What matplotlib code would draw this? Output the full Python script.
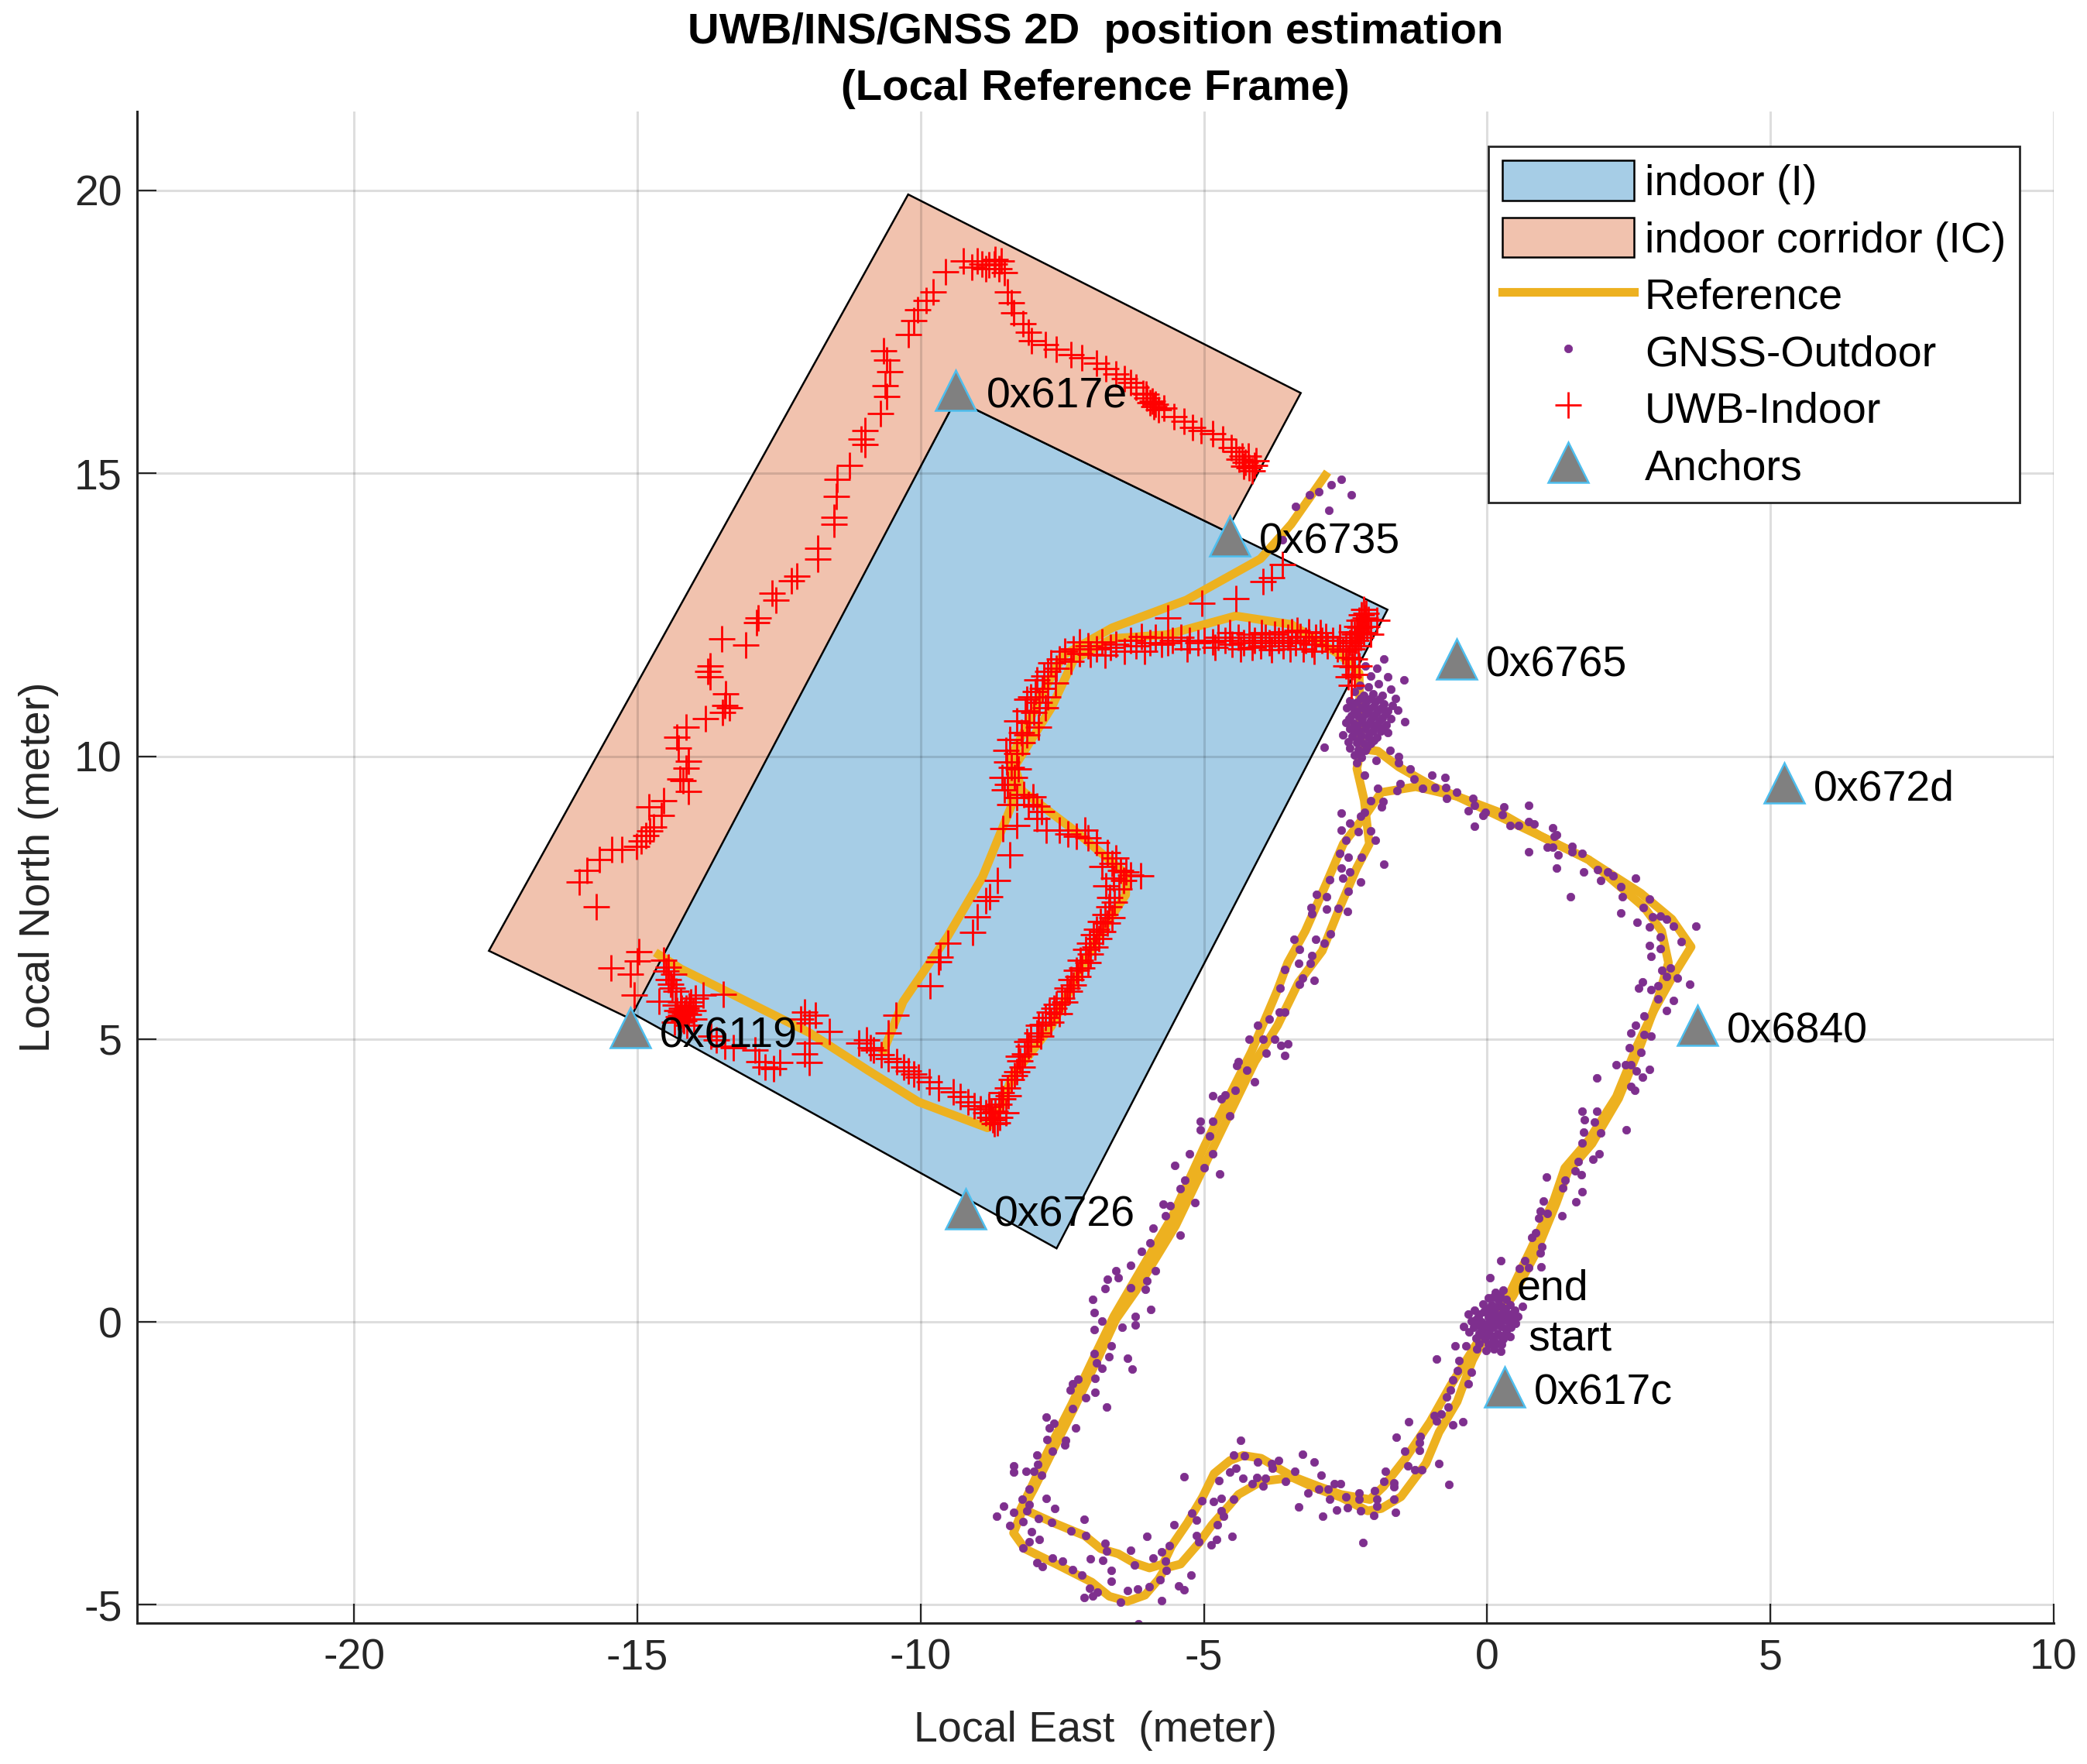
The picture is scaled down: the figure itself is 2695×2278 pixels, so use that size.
import numpy as np
import matplotlib
matplotlib.use("Agg")
import matplotlib.pyplot as plt

plt.rcParams['font.family'] = ['Liberation Sans', 'DejaVu Sans']
plt.rcParams['axes.unicode_minus'] = False

# areas
indoor_x = [-9.38, -1.76, -7.60, -15.13]
indoor_y = [16.30, 12.59, 1.30, 5.48]
corridor_x = [-10.22, -3.29, -4.60, -9.38, -15.13, -17.62]
corridor_y = [19.93, 16.42, 13.97, 16.30, 5.36, 6.56]

# reference track, outdoors (two laps)
ref_out_x = [0.10, 0.39, 0.76, 1.18, 1.37, 1.79, 2.28, 2.65, 2.95, 3.26, 3.60, 3.26, 2.71, 1.79, 0.94, 0.21, -0.53,
             -1.26, -1.87, -2.11, -2.54, -2.84, -3.21, -3.52, -3.70, -4.16, -4.98, -5.57, -6.27, -6.59, -6.90, -7.33,
             -7.77, -8.04, -8.24, -8.12, -7.61, -7.10, -6.82, -6.51, -6.23, -5.96, -5.72, -5.57, -5.29, -5.02, -4.82,
             -4.54, -4.31, -3.99, -3.44, -2.97, -2.58, -2.07, -1.83, -1.44, -1.01, -0.65, -0.14, 0.10]
ref_out_y = [0.00, 0.49, 1.26, 2.16, 2.72, 3.21, 3.98, 4.89, 5.52, 6.08, 6.63, 7.12, 7.58, 8.17, 8.59, 9.01, 9.29,
             9.46, 9.36, 9.01, 8.45, 7.75, 6.91, 6.35, 5.87, 4.78, 3.13, 1.84, 0.65, 0.10, -0.54, -1.45,
             -2.32, -2.91, -3.32, -3.34, -3.57, -3.78, -4.01, -4.10, -4.26, -4.35, -4.28, -3.96, -3.55, -3.09, -2.68,
             -2.45, -2.36, -2.41, -2.73, -2.91, -3.05, -3.14, -2.91, -2.41, -1.77, -1.13, -0.31, 0.00]
ref_out2_x = [0.10, 0.45, 0.85, 1.22, 1.42, 1.85, 2.32, 2.71, 3.02, 3.20, 3.08, 2.77, 1.79, 0.94, -0.53, -0.95, -1.56,
              -1.93, -2.23, -2.30, -2.17, -2.08, -2.30, -2.60, -2.91, -3.33, -3.70, -4.10, -4.90, -5.50, -6.20, -6.55,
              -6.85, -7.28, -7.72, -8.00, -8.20, -8.36, -8.16, -7.61, -6.98, -6.67, -6.35, -6.04, -5.80, -5.68, -5.41,
              -5.09, -4.86, -4.54, -4.39, -3.99, -3.44, -3.00, -2.58, -2.11, -1.87, -1.52, -1.08, -0.85, -0.53, -0.26,
              0.10]
ref_out2_y = [0.00, 0.45, 1.20, 2.10, 2.65, 3.15, 3.95, 4.90, 5.73, 6.35, 6.91, 7.33, 8.17, 8.59, 9.29, 9.46, 9.81,
              10.09, 10.13, 9.78, 9.22, 8.45, 8.03, 7.33, 6.56, 6.00, 5.24, 4.60, 2.95, 1.70, 0.55, 0.05,
              -0.60, -1.50, -2.38, -2.95, -3.32, -3.73, -4.01, -4.28, -4.60, -4.85, -4.94, -4.83, -4.55, -4.35, -4.28,
              -3.91, -3.59, -3.23, -3.05, -2.82, -2.75, -2.95, -3.10, -3.34, -3.30, -3.09, -2.50, -1.95, -1.41, -0.68,
              0.00]

# reference track, indoors
ref_in_x = [-2.23, -2.26, -2.58, -3.46, -4.44, -5.64, -6.62, -7.30, -7.69, -8.34, -8.21, -7.25, -6.38, -6.38, -6.90,
            -7.69, -8.39, -8.60, -8.82, -10.04, -10.92, -11.96, -13.18, -14.23, -14.62]
ref_in_y = [10.13, 11.47, 11.78, 12.33, 12.48, 12.15, 12.08, 11.70, 10.86, 9.82, 9.39, 8.66, 7.92, 7.55, 6.76,
            5.23, 4.32, 3.77, 3.43, 3.89, 4.44, 5.11, 5.72, 6.24, 6.49]
ref_in2_x = [-10.65, -10.31, -9.52, -8.91, -8.56, -8.39, -8.39, -7.82, -7.49, -6.62, -5.31, -4.00, -3.46, -2.86]
ref_in2_y = [4.80, 5.66, 6.82, 7.86, 8.72, 9.14, 10.00, 11.17, 11.78, 12.27, 12.76, 13.49, 14.10, 14.96]

# UWB fixes
uwb_corridor = [(-4.11, 15.14), (-4.20, 15.10), (-4.27, 15.20), (-4.33, 15.30), (-4.44, 15.39), (-4.52, 15.45),
                (-4.67, 15.60), (-4.85, 15.70), (-5.05, 15.76), (-5.20, 15.81), (-5.35, 15.92), (-5.53, 16.00),
                (-5.70, 16.15), (-5.85, 16.22), (-5.91, 16.27), (-6.00, 16.33), (-6.07, 16.42), (-6.20, 16.52),
                (-6.30, 16.60), (-6.40, 16.67), (-6.55, 16.75), (-6.73, 16.85), (-6.90, 16.95), (-7.16, 17.04),
                (-7.35, 17.10), (-7.60, 17.19), (-7.80, 17.28), (-8.04, 17.34), (-8.10, 17.50), (-8.20, 17.65),
                (-8.36, 17.83), (-8.40, 18.02), (-8.47, 18.20), (-8.52, 18.55), (-8.58, 18.75), (-8.70, 18.70),
                (-8.85, 18.62), (-9.00, 18.75), (-9.10, 18.65), (-9.24, 18.75), (-9.56, 18.56), (-9.78, 18.20),
                (-9.90, 18.05), (-10.05, 17.89), (-10.12, 17.70), (-10.22, 17.46), (-10.65, 17.16), (-10.60, 17.00),
                (-10.55, 16.79), (-10.62, 16.55), (-10.60, 16.36), (-10.71, 16.06), (-10.98, 15.75), (-11.05, 15.60),
                (-10.98, 15.51), (-11.25, 15.14), (-11.47, 14.90), (-11.49, 14.59), (-11.53, 14.22), (-11.53, 14.10),
                (-11.82, 13.67), (-11.82, 13.49), (-12.18, 13.18), (-12.28, 13.10), (-12.62, 12.88), (-12.56, 12.76),
                (-12.87, 12.45), (-12.90, 12.36), (-13.51, 12.08), (-13.09, 11.96), (-13.71, 11.60), (-13.75, 11.50),
                (-13.71, 11.41), (-13.44, 11.10), (-13.38, 10.86), (-13.45, 10.90), (-13.50, 10.78), (-13.80, 10.67),
                (-14.14, 10.52), (-14.30, 10.34), (-14.28, 10.15), (-14.10, 9.91), (-14.14, 9.79), (-14.19, 9.57),
                (-14.25, 9.60), (-14.10, 9.38), (-14.54, 9.22), (-14.80, 9.11), (-14.58, 8.96), (-14.71, 8.75),
                (-14.78, 8.68), (-14.85, 8.60), (-14.93, 8.50), (-15.02, 8.41), (-15.28, 8.35), (-15.45, 8.35),
                (-15.67, 8.17), (-15.89, 7.98), (-16.02, 7.77), (-15.73, 7.34), (-14.97, 6.55), (-15.00, 6.38),
                (-15.47, 6.26), (-15.12, 6.15), (-15.06, 5.78)]
uwb_indoor = [(-14.54, 6.39), (-14.45, 6.27), (-14.36, 6.15), (-14.41, 5.97), (-14.32, 5.84), (-14.23, 5.66),
              (-14.14, 5.54), (-14.06, 5.66), (-13.97, 5.72), (-13.84, 5.78), (-13.49, 5.79), (-14.62, 5.67),
              (-14.23, 5.42), (-14.20, 5.36), (-14.24, 5.48), (-14.33, 5.60), (-14.16, 5.46), (-14.08, 5.58),
              (-14.30, 5.50), (-14.26, 5.30), (-14.45, 6.05), (-14.38, 5.90), (-14.50, 6.20), (-13.60, 4.98),
              (-13.70, 5.05), (-13.45, 4.87), (-13.30, 4.85), (-12.92, 4.80), (-12.75, 4.50), (-12.85, 4.60),
              (-12.49, 4.59), (-12.60, 4.48), (-11.96, 4.59), (-12.05, 4.74), (-11.96, 4.93), (-11.61, 5.14),
              (-11.96, 5.29), (-12.05, 5.48), (-12.12, 5.36), (-11.85, 5.42), (-11.09, 4.93), (-10.96, 4.98),
              (-10.88, 4.85), (-10.83, 4.80), (-10.70, 4.72), (-10.57, 4.65), (-10.42, 4.60), (-10.30, 4.50),
              (-10.22, 4.44), (-10.12, 4.38), (-10.04, 4.32), (-9.85, 4.25), (-9.69, 4.13), (-9.43, 4.07),
              (-9.30, 3.98), (-9.17, 3.89), (-9.05, 3.82), (-8.95, 3.77), (-8.85, 3.70), (-8.78, 3.62),
              (-8.72, 3.58), (-8.65, 3.52), (-8.68, 3.72), (-8.62, 3.85), (-8.55, 3.95), (-8.47, 4.13),
              (-8.40, 4.28), (-8.21, 4.50), (-8.25, 4.62), (-8.17, 4.74), (-8.10, 4.88), (-7.95, 5.11),
              (-7.85, 5.26), (-7.80, 5.38), (-7.73, 5.48), (-7.60, 5.62), (-7.51, 5.72), (-7.42, 5.90),
              (-7.35, 6.05), (-7.25, 6.21), (-7.18, 6.40), (-7.08, 6.58), (-7.02, 6.70), (-6.95, 6.85),
              (-6.90, 6.94), (-6.82, 7.08), (-6.74, 7.20), (-6.68, 7.34), (-6.66, 7.50), (-6.73, 7.71),
              (-6.60, 7.85), (-6.47, 7.98), (-6.30, 7.90), (-6.12, 7.89), (-6.38, 7.95), (-6.55, 8.20),
              (-6.70, 8.30), (-6.90, 8.47), (-7.05, 8.55), (-7.25, 8.59), (-7.55, 8.70), (-7.78, 8.69),
              (-7.86, 9.02), (-7.95, 8.90), (-8.10, 9.15), (-8.30, 9.27), (-8.30, 8.78), (-8.52, 9.40),
              (-8.34, 9.63), (-8.40, 9.80), (-8.48, 9.90), (-8.30, 10.05), (-8.21, 10.24), (-8.22, 10.42),
              (-8.08, 10.60), (-8.00, 10.78), (-7.90, 10.95), (-8.05, 11.05), (-7.85, 11.20), (-7.95, 11.35),
              (-7.75, 11.50), (-7.70, 11.65), (-7.55, 11.72), (-7.45, 11.85), (-7.30, 11.90), (-9.83, 5.94),
              (-9.69, 6.36), (-9.65, 6.45), (-9.52, 6.70), (-9.08, 6.88), (-9.00, 7.16), (-8.78, 7.52),
              (-8.85, 7.45), (-8.65, 7.80), (-8.43, 8.26), (-10.44, 5.42), (-10.57, 5.11), (-8.55, 8.72),
              (-7.20, 12.02), (-7.05, 11.95), (-6.90, 11.90), (-6.80, 12.02), (-6.65, 11.92), (-6.55, 11.98),
              (-6.40, 11.85), (-6.30, 12.05), (-6.20, 11.95), (-6.05, 11.85), (-5.95, 12.00), (-5.85, 12.10),
              (-5.75, 11.98), (-5.64, 12.00), (-5.55, 12.05), (-5.40, 12.10), (-5.25, 12.05), (-5.10, 12.00),
              (-5.00, 12.05), (-4.85, 12.02), (-4.75, 12.10), (-4.62, 12.05), (-4.50, 11.98), (-4.40, 12.10),
              (-4.30, 12.00), (-4.20, 12.15), (-4.10, 12.05), (-4.00, 11.95), (-3.92, 12.10), (-3.85, 12.00),
              (-3.75, 12.15), (-3.68, 12.05), (-3.60, 11.95), (-3.52, 12.10), (-3.45, 12.20), (-3.38, 12.00),
              (-3.30, 12.12), (-3.20, 12.05), (-3.10, 11.98), (-3.02, 12.10), (-2.92, 12.05), (-2.82, 11.95),
              (-2.72, 12.05), (-5.64, 12.45), (-5.04, 12.70), (-4.44, 12.79), (-3.95, 13.09), (-3.62, 13.39),
              (-3.80, 13.15), (-2.55, 11.85), (-2.50, 11.60), (-2.45, 11.75), (-2.42, 12.00), (-2.38, 11.90),
              (-2.35, 12.15), (-2.32, 12.05), (-2.30, 12.30), (-2.28, 12.20), (-2.26, 12.40), (-2.22, 12.50),
              (-2.20, 12.30), (-2.18, 12.60), (-2.15, 12.45), (-2.12, 12.30), (-2.05, 12.15), (-1.95, 12.40),
              (-2.45, 11.40), (-2.40, 11.25), (-7.00, 11.80), (-6.75, 11.78), (-6.10, 12.12), (-5.30, 11.90)]
# second pass over the crowded stretches
uwb_dense = [(-14.28, 5.40), (-14.18, 5.32), (-14.10, 5.44), (-14.22, 5.55), (-14.02, 5.50), (-14.35, 5.30),
             (-14.12, 5.24), (-14.00, 5.36), (-8.75, 3.70), (-8.70, 3.50), (-8.60, 3.62), (-8.80, 3.80),
             (-8.58, 4.05), (-8.50, 3.70), (-8.45, 4.00), (-8.35, 4.35), (-8.30, 4.42), (-8.28, 4.70),
             (-8.12, 4.95), (-8.05, 5.00), (-7.92, 5.25), (-7.88, 5.05), (-7.70, 5.30), (-7.65, 5.55),
             (-7.55, 5.45), (-7.45, 5.65), (-7.38, 5.85), (-7.30, 5.95), (-7.22, 6.10), (-7.15, 6.25),
             (-7.05, 6.35), (-7.00, 6.50), (-6.92, 6.62), (-6.85, 6.78), (-6.78, 6.90), (-6.70, 7.05),
             (-6.62, 7.15), (-6.58, 7.42), (-6.50, 7.65), (-6.42, 7.80), (-6.80, 8.05), (-6.62, 8.10),
             (-7.10, 8.70), (-7.40, 8.62), (-8.02, 9.28), (-7.95, 9.12), (-8.18, 9.32), (-8.42, 9.15),
             (-8.46, 9.50), (-8.56, 9.62), (-8.28, 9.78), (-8.50, 10.10), (-8.42, 10.30), (-8.12, 10.38),
             (-8.30, 10.62), (-8.15, 10.80), (-7.92, 10.52), (-8.12, 11.00), (-7.80, 10.85), (-7.98, 11.15),
             (-7.75, 11.05), (-7.62, 11.30), (-7.82, 11.42), (-7.60, 11.55), (-7.35, 11.68), (-7.20, 11.82),
             (-4.80, 11.92), (-4.55, 12.18), (-4.35, 11.90), (-4.15, 11.92), (-3.98, 12.18), (-3.80, 11.88),
             (-3.62, 12.20), (-3.48, 11.90), (-3.35, 12.22), (-3.25, 11.90), (-3.15, 12.20), (-3.05, 11.85),
             (-2.95, 12.18), (-2.85, 12.12), (-2.65, 11.90), (-2.60, 12.10), (-2.50, 11.95), (-2.40, 12.20),
             (-2.34, 11.72), (-2.28, 11.95), (-2.24, 12.10), (-2.18, 12.18), (-2.26, 11.60), (-2.34, 11.45),
             (-2.38, 11.58), (-2.14, 12.52), (-2.10, 12.42), (-2.25, 12.28), (-8.68, 18.78), (-8.62, 18.62),
             (-8.80, 18.68), (-8.92, 18.70), (-4.15, 15.05), (-4.08, 15.22), (-4.30, 15.12), (-4.38, 15.25),
             (-4.22, 15.30), (-5.88, 16.18), (-5.95, 16.25), (-5.80, 16.12), (-6.02, 16.40)]

# GNSS fixes
gnss_north = [(-2.58, 14.90), (-2.75, 14.80), (-2.40, 14.62), (-2.97, 14.68), (-3.13, 14.62), (-3.38, 14.42),
              (-2.80, 14.35), (-3.62, 13.83)]
gnss_hub = [(-2.15, 11.60), (-1.82, 11.72), (-1.47, 11.35), (-1.95, 11.55), (-2.05, 11.42), (-1.75, 11.40),
            (-2.25, 11.25), (-2.10, 11.22), (-1.92, 11.28), (-1.70, 11.18), (-2.35, 11.15), (-2.18, 11.08),
            (-2.02, 11.10), (-1.85, 11.08), (-1.62, 11.02), (-2.42, 10.98), (-2.30, 10.95), (-2.12, 10.98),
            (-1.98, 10.96), (-1.82, 10.92), (-1.68, 10.90), (-2.48, 10.85), (-2.35, 10.82), (-2.22, 10.86),
            (-2.08, 10.84), (-1.92, 10.82), (-1.75, 10.80), (-1.58, 10.81), (-2.40, 10.72), (-2.28, 10.70),
            (-2.15, 10.74), (-2.00, 10.70), (-1.85, 10.68), (-1.70, 10.66), (-1.46, 10.61), (-2.50, 10.60),
            (-2.36, 10.58), (-2.22, 10.60), (-2.08, 10.58), (-1.95, 10.56), (-1.78, 10.55), (-2.42, 10.48),
            (-2.28, 10.46), (-2.15, 10.48), (-2.02, 10.45), (-1.88, 10.44), (-1.75, 10.42), (-2.55, 10.38),
            (-2.38, 10.35), (-2.22, 10.36), (-2.10, 10.34), (-1.95, 10.33), (-2.45, 10.26), (-2.30, 10.24),
            (-2.18, 10.22), (-2.05, 10.22), (-2.88, 10.16), (-2.42, 10.14), (-2.28, 10.12), (-2.15, 10.10),
            (-2.35, 10.02), (-2.22, 9.98), (-2.30, 9.88), (-2.24, 11.02), (-2.06, 11.02), (-1.90, 11.00),
            (-2.38, 10.90), (-2.16, 10.90), (-2.00, 10.88), (-1.86, 10.86), (-2.30, 10.78), (-2.10, 10.78),
            (-1.96, 10.76), (-1.80, 10.74), (-2.44, 10.66), (-2.20, 10.66), (-2.06, 10.64), (-1.90, 10.62),
            (-2.30, 10.54), (-2.14, 10.54), (-2.00, 10.52), (-1.84, 10.50), (-2.34, 10.42), (-2.08, 10.40),
            (-2.26, 10.30), (-2.00, 10.28), (-2.12, 10.16), (-2.24, 10.06)]
gnss_start = [(0.05, 0.78), (0.15, 0.52), (0.28, 0.56), (0.02, 0.42), (0.20, 0.38), (0.34, 0.40), (-0.08, 0.32),
              (0.08, 0.30), (0.26, 0.28), (0.40, 0.30), (-0.22, 0.20), (-0.06, 0.18), (0.12, 0.20), (0.30, 0.18),
              (0.48, 0.20), (0.62, 0.28), (-0.34, 0.14), (-0.16, 0.10), (0.02, 0.08), (0.18, 0.10), (0.36, 0.08),
              (0.54, 0.10), (-0.28, 0.02), (-0.10, 0.00), (0.06, 0.02), (0.22, -0.01), (0.38, 0.00), (0.50, -0.02),
              (-0.42, -0.08), (-0.24, -0.10), (-0.06, -0.08), (0.10, -0.10), (0.26, -0.08), (0.42, -0.10),
              (-0.32, -0.18), (-0.14, -0.20), (0.02, -0.18), (0.18, -0.20), (0.34, -0.18), (-0.20, -0.28),
              (-0.04, -0.30), (0.12, -0.28), (0.28, -0.30), (0.40, -0.26), (-0.57, -0.42), (-0.38, -0.42),
              (-0.14, -0.38), (0.02, -0.40), (0.18, -0.38), (-0.18, -0.48), (-0.02, -0.50), (0.12, -0.48),
              (0.24, -0.52), (0.10, 0.44), (0.22, 0.46), (0.00, 0.24), (0.16, 0.26), (0.32, 0.24), (-0.14, 0.14),
              (0.06, 0.14), (0.24, 0.14), (0.42, 0.14), (-0.20, 0.04), (0.00, -0.04), (0.14, 0.04), (0.30, 0.04),
              (0.46, 0.04), (-0.16, -0.04), (0.04, -0.14), (0.20, -0.06), (0.34, -0.12), (-0.10, -0.14),
              (0.08, -0.24), (0.24, -0.24), (-0.08, -0.24), (0.10, -0.36), (0.26, -0.40)]
gnss_south = [(-0.90, -0.66), (-0.50, -0.68), (-0.53, -0.86), (-0.28, -0.89), (-0.61, -1.02), (-0.34, -1.09),
              (-0.65, -1.20), (-0.71, -1.33), (-0.69, -1.50), (-0.81, -1.63), (-0.93, -1.66), (-0.89, -1.75),
              (-1.38, -1.77), (-0.61, -1.82), (-0.43, -1.76), (-1.61, -2.04), (-1.18, -2.02), (-1.20, -2.14),
              (-1.20, -2.27), (-1.46, -2.29), (-0.85, -2.51), (-1.40, -2.55), (-1.28, -2.61), (-1.16, -2.61),
              (-1.79, -2.64), (-1.83, -2.82), (-1.65, -2.84), (-0.68, -2.87), (-1.65, -2.91), (-1.99, -2.98),
              (-1.64, -3.14), (-2.26, -3.02), (-2.50, -3.09), (-1.95, -3.14), (-2.26, -3.14), (-1.95, -3.25),
              (-2.24, -3.34), (-1.62, -3.36), (-2.00, -3.42), (-2.19, -3.90), (-2.46, -3.28), (-2.59, -2.86),
              (-2.70, -2.86), (-2.81, -2.96), (-2.93, -2.71), (-2.97, -2.96), (-2.78, -3.14), (-2.66, -3.32),
              (-3.17, -3.02), (-3.05, -2.48), (-3.26, -2.34), (-3.33, -3.27), (-2.91, -3.43), (-3.39, -2.64),
              (-3.56, -2.82), (-3.68, -2.45), (-3.81, -2.50), (-3.79, -2.58), (-3.92, -2.76), (-4.07, -2.75),
              (-3.95, -2.90), (-4.15, -2.86), (-4.05, -2.48), (-4.31, -2.77), (-4.35, -2.09), (-4.29, -2.36),
              (-4.48, -2.35), (-4.43, -2.59), (-4.54, -2.66), (-4.74, -2.80), (-4.48, -3.13), (-4.70, -3.12),
              (-4.83, -3.18), (-4.70, -3.34), (-4.66, -3.44), (-4.76, -3.59), (-5.03, -3.16), (-5.35, -2.73),
              (-5.21, -3.38), (-5.13, -3.50), (-5.53, -3.58), (-4.50, -3.79), (-5.13, -3.78), (-5.09, -3.88),
              (-4.78, -3.85), (-4.87, -3.94), (-6.01, -3.79), (-5.61, -3.96), (-5.75, -4.06), (-5.90, -4.17),
              (-5.68, -4.23), (-5.66, -4.39), (-6.29, -4.04), (-6.23, -4.29), (-5.78, -4.55), (-5.23, -4.48),
              (-5.45, -4.67), (-5.35, -4.74), (-5.97, -4.68), (-6.17, -4.72), (-6.35, -4.75), (-5.74, -4.92),
              (-6.47, -4.96), (-6.16, -5.34), (-6.75, -3.91), (-6.72, -4.05), (-6.78, -4.21), (-7.00, -4.19),
              (-6.64, -4.39), (-6.64, -4.59), (-7.02, -4.71), (-6.88, -4.77), (-6.97, -4.84), (-7.12, -4.87),
              (-7.12, -3.49), (-7.08, -3.78), (-7.35, -3.69), (-7.15, -4.48), (-7.32, -4.38), (-7.49, -4.23),
              (-7.67, -4.17), (-7.95, -4.26), (-7.85, -4.33), (-8.20, -3.99), (-8.08, -3.89), (-7.90, -3.85),
              (-8.04, -3.71), (-7.69, -3.55), (-7.92, -3.48), (-8.20, -3.53), (-8.42, -3.60), (-8.66, -3.44),
              (-8.36, -3.37), (-8.12, -3.34), (-7.63, -3.30), (-8.53, -3.25), (-7.79, -3.12), (-8.21, -3.14),
              (-8.08, -3.23), (-8.08, -2.96), (-7.86, -2.71), (-8.00, -2.64), (-8.14, -2.64), (-8.36, -2.55),
              (-8.36, -2.65)]
gnss_west = [(-7.94, -2.52), (-7.95, -2.35), (-7.67, -2.29), (-7.45, -2.18), (-7.77, -2.08), (-7.44, -2.09),
             (-7.73, -1.88), (-7.65, -1.79), (-7.27, -1.87), (-7.78, -1.68), (-7.32, -1.53), (-6.72, -1.51),
             (-7.08, -1.34), (-6.92, -1.25), (-7.36, -1.20), (-7.32, -1.09), (-7.22, -1.01), (-6.92, -1.00),
             (-6.80, -0.82), (-6.27, -0.83), (-6.89, -0.72), (-6.35, -0.64), (-6.67, -0.61), (-6.93, -0.56),
             (-6.63, -0.42), (-6.94, -0.13), (-6.45, -0.09), (-6.21, -0.06), (-6.21, 0.10), (-6.80, 0.01),
             (-5.94, 0.22), (-6.93, 0.17), (-6.97, 0.40), (-6.75, 0.59), (-6.04, 0.57), (-6.30, 0.60),
             (-6.01, 0.72), (-6.51, 0.78), (-6.70, 0.75), (-6.55, 0.90), (-6.30, 1.00), (-5.85, 0.90),
             (-6.10, 1.25), (-5.95, 1.40), (-5.90, 1.66), (-5.42, 1.53), (-5.68, 1.87), (-5.72, 2.08),
             (-5.59, 2.05), (-5.16, 2.11), (-5.42, 2.36), (-5.33, 2.51), (-5.51, 2.76), (-5.00, 2.73),
             (-4.72, 2.62), (-5.26, 2.97), (-4.85, 2.97), (-4.90, 3.28), (-5.07, 3.40), (-5.07, 3.55),
             (-4.85, 3.55), (-4.55, 3.64), (-4.63, 4.01), (-4.42, 4.53), (-4.70, 3.95), (-4.85, 4.00),
             (-4.45, 4.10), (-4.40, 4.60), (-4.25, 4.45), (-4.10, 4.25), (-4.20, 5.00), (-3.95, 5.00),
             (-4.05, 5.25), (-3.85, 5.35), (-3.90, 4.75), (-3.75, 5.00), (-3.58, 4.71), (-3.64, 4.89),
             (-3.52, 4.92), (-3.58, 5.48), (-3.67, 5.48), (-3.65, 5.90), (-3.32, 5.97), (-3.26, 6.08),
             (-3.06, 6.04), (-3.58, 6.23), (-3.33, 6.34), (-3.12, 6.34), (-3.09, 6.48), (-3.32, 6.59),
             (-2.88, 6.70), (-3.03, 6.77), (-3.41, 6.76), (-2.77, 6.86), (-3.09, 7.21), (-3.11, 7.33),
             (-2.46, 7.25), (-2.83, 7.30), (-2.63, 7.31), (-2.84, 7.51), (-3.01, 7.56), (-2.45, 7.61),
             (-2.23, 7.77), (-2.78, 7.82), (-2.55, 7.84), (-2.42, 7.96), (-2.57, 8.02), (-1.83, 8.09),
             (-2.45, 8.21), (-2.22, 8.22), (-2.60, 8.28), (-1.97, 8.51), (-2.50, 8.51), (-2.27, 8.66),
             (-2.05, 8.68), (-2.57, 8.69), (-2.42, 8.81), (-2.23, 8.94), (-2.57, 8.99), (-2.17, 9.01),
             (-1.87, 9.11), (-1.84, 9.20), (-2.06, 9.22), (-1.93, 9.43), (-1.59, 9.39), (-1.53, 9.51),
             (-2.17, 9.67), (-1.96, 9.92), (-1.56, 9.88), (-1.56, 9.99), (-1.72, 10.10)]
gnss_east = [(-1.36, 9.78), (-0.98, 9.67), (-0.75, 9.62), (-1.29, 9.60), (-1.14, 9.43), (-0.92, 9.44),
             (-0.73, 9.44), (-0.71, 9.25), (-0.54, 9.36), (-0.25, 9.25), (-0.22, 9.13), (-0.34, 9.03),
             (-0.22, 8.76), (-0.04, 9.01), (-0.07, 8.95), (0.30, 9.10), (0.27, 8.97), (0.73, 9.13), (0.40, 8.78),
             (0.56, 8.78), (0.73, 8.85), (0.83, 8.80), (1.15, 8.73), (1.23, 8.61), (1.18, 8.58), (0.73, 8.31),
             (1.06, 8.39), (1.15, 8.39), (1.25, 8.26), (1.23, 8.02), (1.50, 8.41), (1.50, 8.31), (1.67, 8.28),
             (1.47, 7.51), (1.70, 7.95), (1.95, 8.00), (2.13, 7.95), (2.01, 7.81), (2.22, 7.89), (2.62, 7.84),
             (2.36, 7.70), (2.86, 7.47), (2.39, 7.51), (2.36, 7.23), (2.75, 7.32), (2.65, 7.07), (2.92, 7.16),
             (3.05, 7.17), (3.17, 7.12), (3.29, 7.00), (2.87, 6.98), (3.68, 7.00), (3.06, 6.81), (2.86, 6.65),
             (3.05, 6.60), (3.43, 6.72), (2.89, 6.46), (3.08, 6.22), (3.23, 6.25), (3.17, 6.11), (3.35, 6.08),
             (3.57, 5.97), (2.74, 6.01), (2.67, 5.90), (2.89, 5.88), (3.02, 5.94), (3.29, 5.68), (3.02, 5.71),
             (3.17, 5.50), (2.77, 5.41), (2.62, 5.25), (2.54, 5.11), (2.77, 5.08), (2.89, 5.05), (2.51, 4.85),
             (2.71, 4.77), (2.28, 4.54), (2.44, 4.55), (2.53, 4.54), (2.63, 4.43), (2.74, 4.33), (2.86, 4.47),
             (1.94, 4.31), (2.53, 4.16), (2.61, 4.10), (1.67, 3.72), (1.93, 3.72), (1.72, 3.58), (1.89, 3.53),
             (1.70, 3.35), (2.00, 3.34), (2.45, 3.39), (1.68, 3.16), (1.98, 2.97), (1.87, 2.88), (1.61, 2.83),
             (1.55, 2.67), (1.66, 2.60), (1.05, 2.56), (1.37, 2.51), (1.34, 2.37), (1.67, 2.30), (1.56, 2.12),
             (0.99, 2.13), (0.94, 1.96), (1.06, 1.92), (0.91, 1.83), (1.32, 1.87), (0.85, 1.57), (0.79, 1.50),
             (0.96, 1.33), (0.94, 1.22), (0.24, 1.08), (0.67, 1.08), (0.57, 0.94), (0.73, 0.96), (0.95, 0.98)]

# anchors
anchor_x = [-9.38, -4.54, -0.54, 5.24, 3.71, 0.31, -9.21, -15.13]
anchor_y = [16.47, 13.90, 11.72, 9.53, 5.25, -1.15, 2.00, 5.20]
anchor_names = ['0x617e', '0x6735', '0x6765', '0x672d', '0x6840', '0x617c', '0x6726', '0x6119']
label_x = [-8.84, -4.02, -0.02, 5.76, 4.23, 0.82, -8.70, -14.60]
label_y = [16.35, 13.78, 11.60, 9.41, 5.13, -1.27, 1.88, 5.05]

xticks = [-20, -15, -10, -5, 0, 5, 10]
yticks = [-5, 0, 5, 10, 15, 20]

BLUE = '#a6cde6'
SALMON = '#f1c2ae'
YEL = '#edb120'
PURP = '#7e2f8e'
DARK = '#262626'
FS = 40

fig = plt.figure(figsize=(26.95, 22.78), dpi=100)
ax = fig.add_axes([103/1568, 106/1325, 1440/1568, 1135/1325])

ax.fill(indoor_x, indoor_y, facecolor=BLUE, edgecolor='k', lw=1.8, label='indoor (I)')
ax.fill(corridor_x, corridor_y, facecolor=SALMON, edgecolor='k', lw=1.8, label='indoor corridor (IC)')

ax.plot(ref_out_x, ref_out_y, color=YEL, lw=8, solid_joinstyle='round', label='Reference')
ax.plot(ref_out2_x, ref_out2_y, color=YEL, lw=8, solid_joinstyle='round')
ax.plot(ref_in_x, ref_in_y, color=YEL, lw=8, solid_joinstyle='round')
ax.plot(ref_in2_x, ref_in2_y, color=YEL, lw=8, solid_joinstyle='round')

gnss = np.array(gnss_north + gnss_hub + gnss_start + gnss_south + gnss_west + gnss_east)
uwb = np.array(uwb_corridor + uwb_indoor + uwb_dense)
ax.plot(gnss[:, 0], gnss[:, 1], ls='none', marker='o', ms=7.5, mfc=PURP, mec=PURP, mew=0.5, label='GNSS-Outdoor')
ax.plot(uwb[:, 0], uwb[:, 1], ls='none', marker='+', ms=25, mec='#ff0000', mew=2.0, label='UWB-Indoor')
ax.plot(anchor_x, anchor_y, ls='none', marker='^', ms=37, mfc='#808080', mec='#4dbeee', mew=1.8, label='Anchors',
        zorder=2.8)

for name, tx, ty in zip(anchor_names, label_x, label_y):
    ax.text(tx, ty, name, fontsize=FS, va='center', ha='left', color='k')
ax.text(0.52, 0.58, 'end', fontsize=FS, va='center', ha='left', color='k')
ax.text(0.73, -0.31, 'start', fontsize=FS, va='center', ha='left', color='k')

ax.set_xlim(-23.83, 10)
ax.set_ylim(-5.32, 21.39)
ax.set_xticks(xticks)
ax.set_yticks(yticks)
ax.grid(True, color='k', alpha=0.13, lw=2.2)
ax.set_axisbelow('line')
ax.spines['top'].set_visible(False)
ax.spines['right'].set_visible(False)
ax.spines['left'].set_linewidth(2.2)
ax.spines['bottom'].set_linewidth(2.2)
ax.spines['left'].set_color(DARK)
ax.spines['bottom'].set_color(DARK)
ax.tick_params(direction='in', length=18, width=1.6, color=DARK, labelcolor=DARK, labelsize=FS, pad=14)

ax.set_xlabel('Local East  (meter)', fontsize=FS, color=DARK, labelpad=30)
ax.set_ylabel('Local North (meter)', fontsize=FS, color=DARK, labelpad=14)
ax.set_title('UWB/INS/GNSS 2D  position estimation\n(Local Reference Frame)', fontsize=40.5, fontweight='bold',
             color='k', pad=11, linespacing=1.52)

leg = ax.legend(loc='upper left', bbox_to_anchor=(1118/1568, 1-110/1325), bbox_transform=fig.transFigure, fontsize=FS,
                fancybox=False, framealpha=1, edgecolor=DARK, handlelength=3.06, handleheight=1.05,
                handletextpad=0.25, labelspacing=0.3, borderpad=0.33, borderaxespad=0)
leg.get_frame().set_linewidth(2.0)

fig.savefig('out.png', dpi=100)
